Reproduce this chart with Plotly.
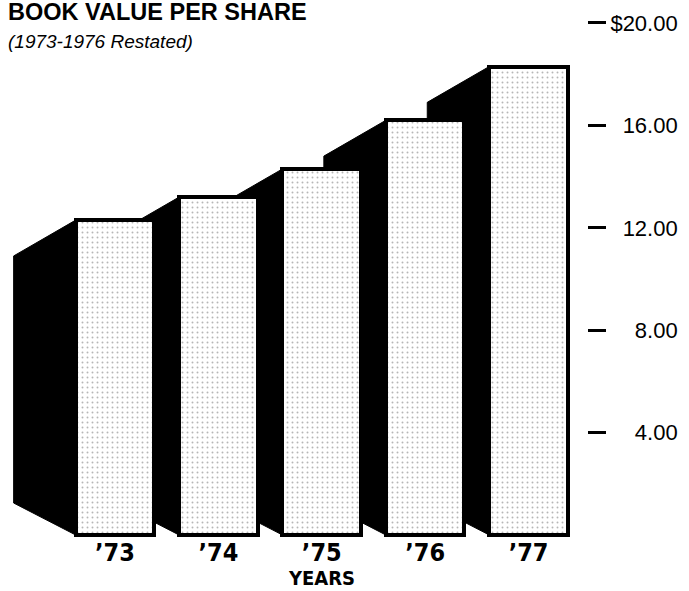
import plotly.graph_objects as go

# Book value per share, 1973-1977 (1973-1976 restated)
years = ["\u201973", "\u201974", "\u201975", "\u201976", "\u201977"]
book_value = [12.3, 13.2, 14.3, 16.2, 18.3]

# Right-hand scale
tick_values = [4, 8, 12, 16, 20]
tick_labels = ["\u2007\u20074.00", "\u2007\u20078.00", "\u200712.00", "\u200716.00", "$20.00"]

x_pos = list(range(len(years)))

# Geometry of the black extruded side drawn to the left of each bar (axis units)
BAR_WIDTH = 0.76
DEPTH_X = 0.60      # how far the side face reaches to the left
TOP_DROP = 1.40     # the back edge sits lower than the bar top
BACK_BASE = 1.25    # the back edge sits higher than the baseline

SANS = "Liberation Sans, Arial, sans-serif"
NARROW = "Liberation Sans Narrow, DejaVu Sans Condensed, Arial Narrow, sans-serif"

fig = go.Figure()

fig.add_trace(go.Bar(
    x=x_pos,
    y=book_value,
    width=BAR_WIDTH,
    marker=dict(
        color="white",
        line=dict(color="black", width=4),
        pattern=dict(shape=".", fgcolor="#6e6e6e", bgcolor="white",
                     size=5, solidity=0.12),
    ),
    hoverinfo="x+y",
    showlegend=False,
))

# Black side faces, drawn beneath the bars
shapes = []
for xc, v in zip(x_pos, book_value):
    xl = xc - BAR_WIDTH / 2
    xb = xl - DEPTH_X
    path = (f"M {xl},{v} L {xb},{v - TOP_DROP} L {xb},{BACK_BASE} "
            f"L {xl},0 Z")
    shapes.append(dict(type="path", path=path, xref="x", yref="y",
                       fillcolor="black", line=dict(color="black", width=1),
                       layer="below"))

fig.update_layout(
    width=689,
    height=591,
    margin=dict(l=0, r=102, t=0, b=51),
    paper_bgcolor="white",
    plot_bgcolor="white",
    shapes=shapes,
    bargap=0,
    xaxis=dict(
        range=[-1.112, 4.565],
        tickvals=x_pos,
        ticktext=years,
        showgrid=False,
        zeroline=False,
        showline=False,
        ticks="",
        ticklabelstandoff=-5,
        tickfont=dict(family=NARROW, size=25, color="black", weight="bold"),
    ),
    yaxis=dict(
        range=[-0.195, 20.898],
        side="right",
        tickvals=tick_values,
        ticktext=tick_labels,
        ticks="outside",
        ticklen=18,
        tickwidth=3,
        tickcolor="black",
        showgrid=False,
        zeroline=False,
        showline=False,
        tickfont=dict(family=SANS, size=22, color="black"),
    ),
    annotations=[
        dict(text="BOOK VALUE PER SHARE", xref="paper", yref="paper",
             x=0.01, y=1 - 12 / 540, xanchor="left", yanchor="middle",
             showarrow=False,
             font=dict(family=SANS, size=23.5, color="black", weight="bold")),
        dict(text="<i>(1973-1976 Restated)</i>", xref="paper", yref="paper",
             x=0.01, y=1 - 41 / 540, xanchor="left", yanchor="middle",
             showarrow=False,
             font=dict(family=SANS, size=19, color="black")),
        # axis caption centred under the middle year
        dict(text="YEARS", xref="x", yref="paper",
             x=x_pos[len(x_pos) // 2], y=-(578 - 540) / 540,
             xanchor="center", yanchor="middle", showarrow=False,
             font=dict(family=NARROW, size=20, color="black", weight="bold")),
    ],
)

fig.write_html("out.html")
